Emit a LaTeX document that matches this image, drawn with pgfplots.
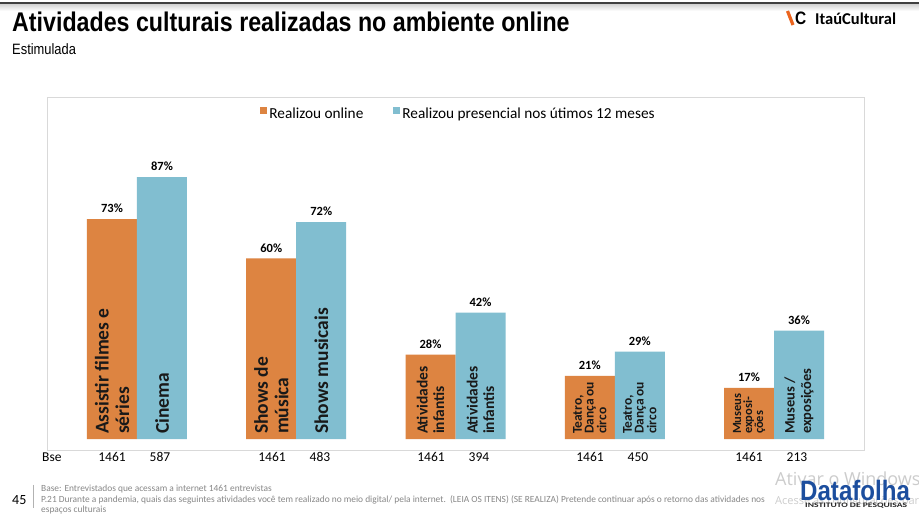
\documentclass[border=0pt]{standalone}
\usepackage{fontspec}
\usepackage{graphicx}
\usepackage{pgfplots}
\pgfplotsset{compat=1.18}
\setmainfont{Carlito}
\newfontfamily\titlefont[FakeStretch=0.86]{Liberation Sans Bold}
\newfontfamily\narrowfont[FakeStretch=0.86]{Liberation Sans}
\newfontfamily\wmfont{Open Sans}
\definecolor{onl}{RGB}{221,132,65}
\definecolor{pres}{RGB}{129,190,208}
\definecolor{foot}{RGB}{135,135,135}
\definecolor{dfblue}{RGB}{28,78,158}
\begin{document}
\begin{tikzpicture}[x=1pt,y=1pt]
\path[use as bounding box, fill=white] (0,0) rectangle (919,516);
% top rule
\shade[top color=gray!35, bottom color=white] (0,505) rectangle (919,512);
\draw[line width=2pt, black!75] (0,513) -- (919,513);
% title
\node[anchor=base west, inner sep=0pt] at (12,484) {\titlefont\fontsize{27}{30}\selectfont Atividades culturais realizadas no ambiente online};
\node[anchor=base west, inner sep=0pt] at (12,461) {\narrowfont\fontsize{15}{17}\selectfont Estimulada};
% logo Itau
\draw[line width=3.2pt, color={rgb,255:red,235;green,100;blue,30}] (787.5,505) -- (793,491);
\node[anchor=base west, inner sep=0pt] at (795,491) {\titlefont\fontsize{18}{20}\selectfont C};
\node[anchor=base west, inner sep=0pt] at (815,491) {\bfseries\fontsize{16.5}{18}\selectfont Ita\'uCultural};

\begin{axis}[
  at={(47pt,66pt)}, anchor=south west,
  scale only axis, width=817pt, height=353pt,
  xmin=-0.565, xmax=4.565, ymin=-3.65, ymax=113.6,
  axis line style={draw=gray!30, line width=0.8pt},
  xtick=\empty, ytick=\empty,
  ybar=0pt, bar width=50pt,
  clip=false,
  /pgf/number format/assume math mode=true,
  nodes near coords={\pgfmathprintnumber{\pgfplotspointmeta}\%},
  nodes near coords style={font=\bfseries\fontsize{12.5}{14}\selectfont, anchor=south, inner sep=0pt, yshift=6pt, text=black},
  legend style={draw=none, fill=none, at={(0.5037,0.952)}, anchor=center,
    legend columns=2, font=\fontsize{15.3}{17}\selectfont,
    /tikz/every even column/.append style={column sep=28pt},
    cells={anchor=west}},
  legend image code/.code={\fill[#1] (0pt,0pt) rectangle (7pt,7pt);},
]
\addplot[fill=onl, draw=none] coordinates {(0,73) (1,60) (2,28) (3,21) (4,17)};
\addlegendentry{Realizou online}
\addplot[fill=pres, draw=none] coordinates {(0,87) (1,72) (2,42) (3,29) (4,36)};
\addlegendentry{Realizou presencial nos útimos 12 meses}

% labels inside bars
\tikzset{inl/.style={rotate=90, anchor=west, align=left, inner sep=0pt, text=black!90, font=\bfseries}}
\node[inl, font=\bfseries\fontsize{19.5}{20.5}\selectfont] at (axis cs:-0.157,1.6) {Assistir filmes e\\séries};
\node[inl, font=\bfseries\fontsize{19.5}{20.5}\selectfont] at (axis cs:0.157,1.6) {Cinema};
\node[inl, font=\bfseries\fontsize{19.5}{20.5}\selectfont] at (axis cs:0.843,1.6) {Shows de\\música};
\node[inl, font=\bfseries\fontsize{19.5}{20.5}\selectfont] at (axis cs:1.157,1.6) {Shows musicais};
\node[inl, font=\bfseries\fontsize{15.5}{16.5}\selectfont] at (axis cs:1.843,1.6) {Atividades\\infantis};
\node[inl, font=\bfseries\fontsize{15.5}{16.5}\selectfont] at (axis cs:2.157,1.6) {Atividades\\infantis};
\node[inl, font=\bfseries\fontsize{13.5}{11.7}\selectfont] at (axis cs:2.843,1.6) {Teatro,\\Dança ou\\circo};
\node[inl, font=\bfseries\fontsize{13.5}{11.7}\selectfont] at (axis cs:3.157,1.6) {Teatro,\\Dança ou\\circo};
\node[inl, font=\bfseries\fontsize{12.5}{11}\selectfont] at (axis cs:3.843,1.6) {Museus\\exposi-\\ções};
\node[inl, font=\bfseries\fontsize{14.5}{16.7}\selectfont] at (axis cs:4.157,1.6) {Museus /\\exposições};
\end{axis}

% Bse row
\begin{scope}[every node/.style={anchor=base, inner sep=0pt, font=\fontsize{13.5}{15}\selectfont}]
\node[anchor=base west] at (42,54) {Bse};
\node at (112,54) {1461}; \node at (160,54) {587};
\node at (272,54) {1461}; \node at (320,54) {483};
\node at (431,54) {1461}; \node at (479,54) {394};
\node at (590,54) {1461}; \node at (638,54) {450};
\node at (749,54) {1461}; \node at (797,54) {213};
\end{scope}

% footer
\node[anchor=base west, inner sep=0pt] at (12,11) {\fontsize{14}{16}\selectfont 45};
\draw[gray!60, line width=0.8pt] (33,31) -- (33,8);
\begin{scope}[every node/.style={anchor=base west, inner sep=0pt, text=foot, font=\fontsize{9.4}{10}\selectfont}]
\node at (41,24) {Base: Entrevistados que acessam a internet 1461 entrevistas};
\node at (41,13) {P.21 Durante a pandemia, quais das seguintes atividades você tem realizado no meio digital/ pela internet.\ \ (LEIA OS ITENS) (SE REALIZA) Pretende continuar após o retorno das atividades nos};
\node at (41,3) {espaços culturais};
\end{scope}

% watermark
\node[anchor=base west, inner sep=0pt, text=gray!40] at (775,30) {\wmfont\fontsize{18}{20}\selectfont Ativar o Windows};
\node[anchor=base west, inner sep=0pt, text=gray!40] at (775,11) {\wmfont\fontsize{11}{13}\selectfont Acesse as configurações para ativar o Windows.};
% Datafolha logo
\node[anchor=base west, inner sep=0pt, text=dfblue] at (800,15) {\titlefont\fontsize{28}{30}\selectfont Datafolha};
\node[anchor=base west, inner sep=0pt, text=black!85] at (805,8) {\resizebox{102pt}{4.5pt}{\bfseries INSTITUTO DE PESQUISAS}};
\end{tikzpicture}
\end{document}
